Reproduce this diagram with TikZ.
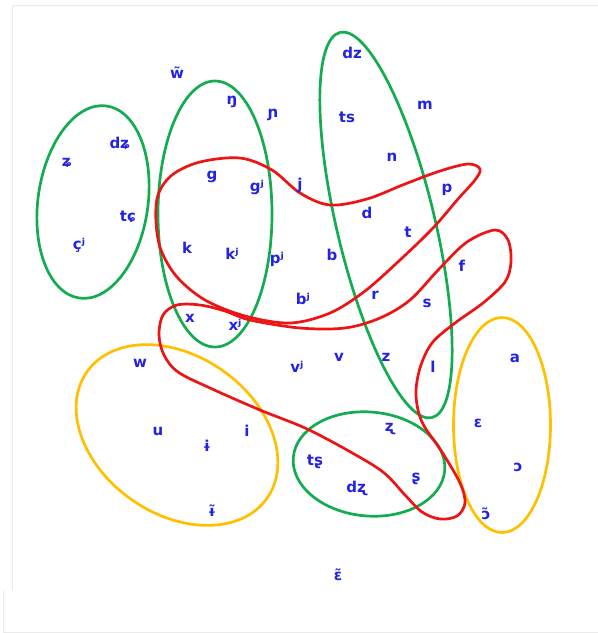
\documentclass[tikz,border=0pt]{standalone}
\usepackage{fontspec}
\setmainfont{DejaVu Sans}
\newfontfamily\labfont{DejaVu Sans Bold}
\definecolor{labblue}{RGB}{35,35,225}
\definecolor{grn}{RGB}{20,172,80}
\definecolor{rd}{RGB}{236,20,20}
\definecolor{ylw}{RGB}{255,192,0}
\begin{document}
\begin{tikzpicture}[x=1pt,y=-1pt,
  lab/.style={text=labblue,font=\labfont\fontsize{15}{17}\selectfont,inner sep=0pt},
  gring/.style={draw=grn,line width=2.7pt},
  rring/.style={draw=rd,line width=2.7pt},
  yring/.style={draw=ylw,line width=2.7pt}]
\useasboundingbox (0,0) rectangle (598,633);
\fill[white] (0,0) rectangle (598,633);
\draw[black!8,line width=1pt] (12,5) -- (598,5);
\draw[black!8,line width=1pt] (12,5) -- (12,590);
\draw[black!8,line width=1pt] (3,590) -- (3,632) -- (598,632);

% green rings
\draw[gring,rotate around={-8:(93,202)}] (93,202) ellipse (55 and 97);
\draw[gring] (215,214) ellipse (57 and 133);
\draw[gring,rotate around={13.4:(386,225)}] (386,225) ellipse (49 and 198);
\draw[gring,rotate around={-5:(369,464)}] (369,464) ellipse (76 and 52);
% yellow rings
\draw[yring,rotate around={-35:(177,435)}] (177,435) ellipse (110 and 79);
\draw[yring] (502,425) ellipse (48.5 and 107.5);
% red curves
\draw[rring] plot[smooth cycle,tension=0.55] coordinates {
 (245,316) (290,323) (330,313) (365,291) (400,260) (433,228) (458,199)
 (475,180) (480,169) (468,164) (440,171) (405,184) (367,199) (330,205)
 (300,193) (272,170) (240,158) (200,162) (172,175) (158,195) (156,222)
 (161,250) (177,277) (205,300)};
\draw[rring] plot[smooth cycle,tension=0.55] coordinates {
 (250,320) (300,328) (345,328) (380,318) (410,300) (440,268) (467,242)
 (495,230) (508,240) (511,262) (505,282) (483,303) (455,323) (432,343)
 (420,368) (416,395) (422,422) (442,452) (460,483) (465,503) (457,516)
 (440,519) (422,512) (405,495) (383,472) (347,450) (305,428) (260,410)
 (210,388) (178,372) (164,355) (159,335) (163,315) (177,305) (200,305)
 (225,311)};

% labels
\node[lab] (wt) at (177,73) {w̃};
\node[lab] (eng) at (232,102) {ŋ};
\node[lab] (nj) at (273,115) {ɲ};
\node[lab] (dz) at (352,53) {dz};
\node[lab] (ts) at (347,117) {ts};
\node[lab] (m) at (425,105) {m};
\node[lab] (n) at (392,157) {n};
\node[lab] (zc) at (67,163) {ʑ};
\node[lab] (dzc) at (120,143) {dʑ};
\node[lab] (tc) at (128,217) {tɕ};
\node[lab] (cj) at (79,245) {çʲ};
\node[lab] (g) at (212,177) {g};
\node[lab] (gj) at (257,187) {gʲ};
\node[lab] (j) at (300,185) {j};
\node[lab] (d) at (367,213) {d};
\node[lab] (p) at (447,190) {p};
\node[lab] (t) at (408,232) {t};
\node[lab] (k) at (187,248) {k};
\node[lab] (kj) at (232,254) {kʲ};
\node[lab] (pj) at (277,259) {pʲ};
\node[lab] (b) at (332,255) {b};
\node[lab] (f) at (462,266) {f};
\node[lab] (bj) at (303,299) {bʲ};
\node[lab] (r) at (375,295) {r};
\node[lab] (s) at (427,303) {s};
\node[lab] (x) at (190,318) {x};
\node[lab] (xj) at (235,325) {xʲ};
\node[lab] (w) at (140,363) {w};
\node[lab] (vj) at (297,367) {vʲ};
\node[lab] (v) at (339,357) {v};
\node[lab] (z) at (386,357) {z};
\node[lab] (l) at (433,367) {l};
\node[lab] (a) at (515,358) {a};
\node[lab] (u) at (158,431) {u};
\node[lab] (ibar) at (207,446) {ɨ};
\node[lab] (i) at (247,431) {i};
\node[lab] (zr) at (390,429) {ʐ};
\node[lab] (eps) at (478,423) {ɛ};
\node[lab] (tsr) at (315,462) {tʂ};
\node[lab] (dzr) at (357,488) {dʐ};
\node[lab] (sr) at (416,479) {ʂ};
\node[lab] (oo) at (518,467) {ɔ};
\node[lab] (oot) at (486,514) {ɔ̃};
\node[lab] (ibart) at (212,511) {ɨ̃};
\node[lab] (epst) at (338,575) {ɛ̃};
\end{tikzpicture}
\end{document}
